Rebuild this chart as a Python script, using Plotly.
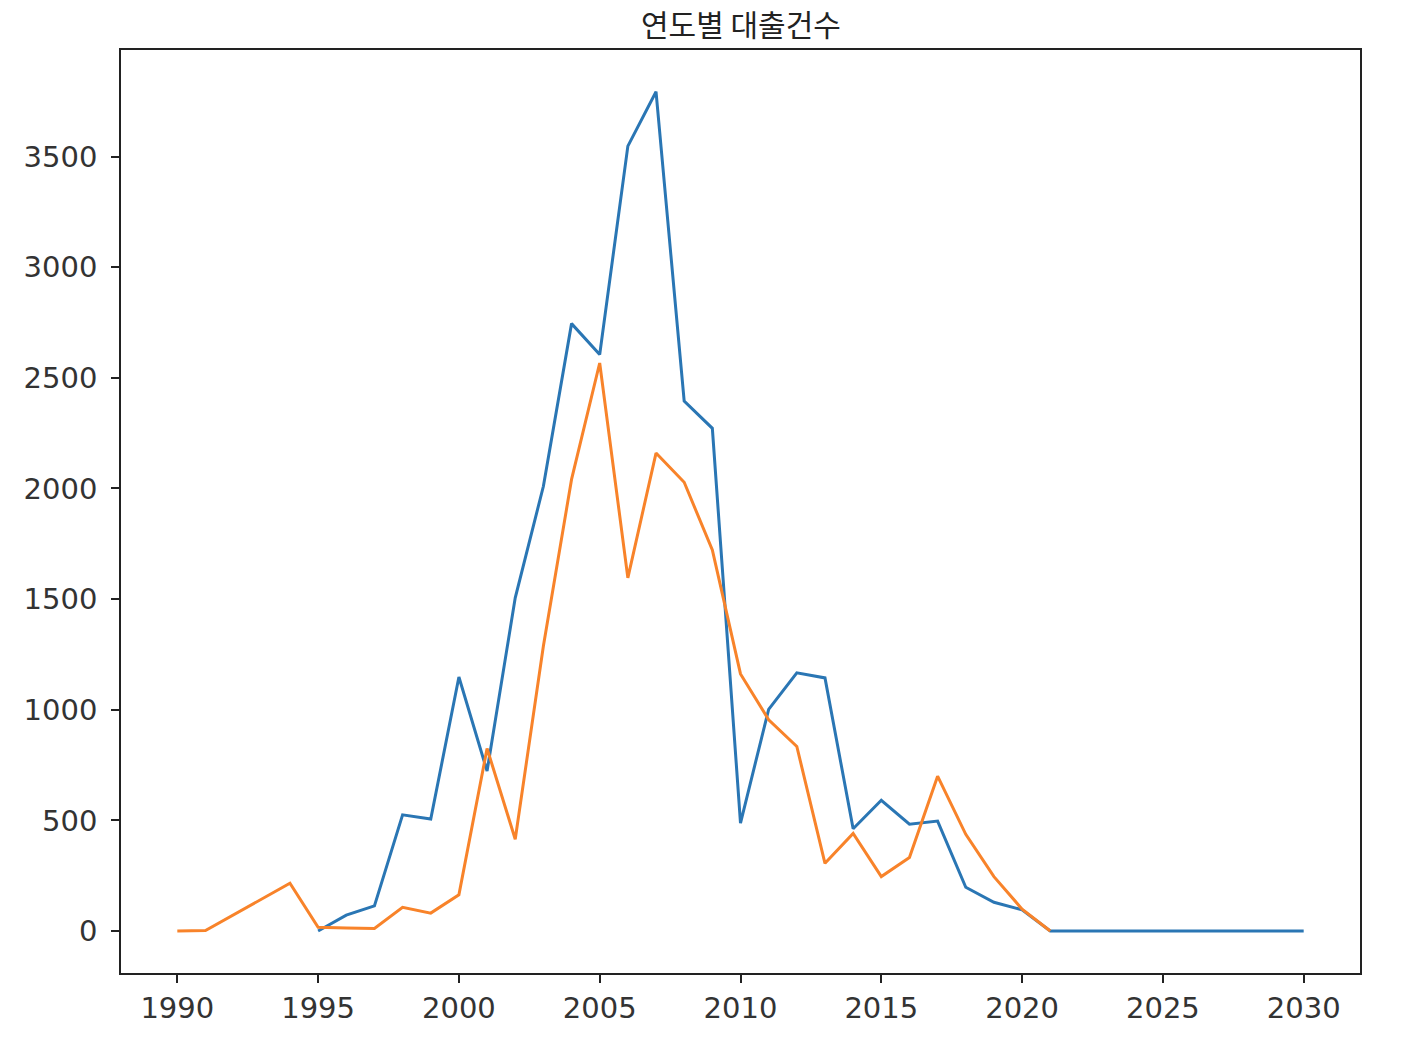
import plotly.graph_objects as go

# Blue series (1995-2030)
years_a = list(range(1995, 2031))
loans_a = [0, 72, 114, 525, 506, 1148, 723, 1506, 2010, 2745, 2605, 3547, 3793,
           2395, 2272, 488, 1002, 1167, 1144, 462, 591, 483, 497, 198, 130, 96, 0,
           0, 0, 0, 0, 0, 0, 0, 0, 0]

# Orange series (1990-2021, 1992-1993 absent)
years_b = [1990, 1991, 1994, 1995, 1996, 1997, 1998, 1999, 2000, 2001, 2002, 2003,
           2004, 2005, 2006, 2007, 2008, 2009, 2010, 2011, 2012, 2013, 2014, 2015,
           2016, 2017, 2018, 2019, 2020, 2021]
loans_b = [0, 2, 216, 17, 14, 12, 107, 81, 164, 825, 415, 1288, 2041, 2567, 1596,
           2160, 2028, 1722, 1162, 955, 834, 306, 441, 246, 332, 700, 437, 246, 99, 0]

x_ticks = [1990, 1995, 2000, 2005, 2010, 2015, 2020, 2025, 2030]
y_ticks = [0, 500, 1000, 1500, 2000, 2500, 3000, 3500]

fig = go.Figure()
fig.add_trace(go.Scatter(x=years_a, y=loans_a, mode="lines",
                         line=dict(color="#2a76b4", width=3), showlegend=False))
fig.add_trace(go.Scatter(x=years_b, y=loans_b, mode="lines",
                         line=dict(color="#f8832a", width=3), showlegend=False))

tick_font = "DejaVu Sans, Noto Sans, sans-serif"
title_font = "Noto Sans CJK KR, Noto Sans, sans-serif"
axis_common = dict(showgrid=False, zeroline=False, showline=True, linecolor="#222",
                   linewidth=1.6, mirror=True, ticks="outside", ticklen=8,
                   tickwidth=1.6, tickcolor="#222",
                   tickfont=dict(size=29, color="#333", family=tick_font))

L, R, T, B = 113, 66, 42, 77
fig.update_layout(
    width=1418, height=1042,
    paper_bgcolor="white", plot_bgcolor="white",
    margin=dict(l=L, r=R, t=T, b=B),
    xaxis=dict(range=[1988, 2032], tickvals=x_ticks, ticklabelstandoff=0, **axis_common),
    yaxis=dict(range=[-189.6, 3981.6], tickvals=y_ticks, ticklabelstandoff=8, **axis_common),
)
fig.add_annotation(text="연도별 대출건수", xref="paper", yref="paper",
                   x=0.5, y=1, xanchor="center", yanchor="bottom", yshift=4,
                   showarrow=False, borderpad=0,
                   font=dict(size=30, color="#222", family=title_font))

fig.write_html("out.html")
